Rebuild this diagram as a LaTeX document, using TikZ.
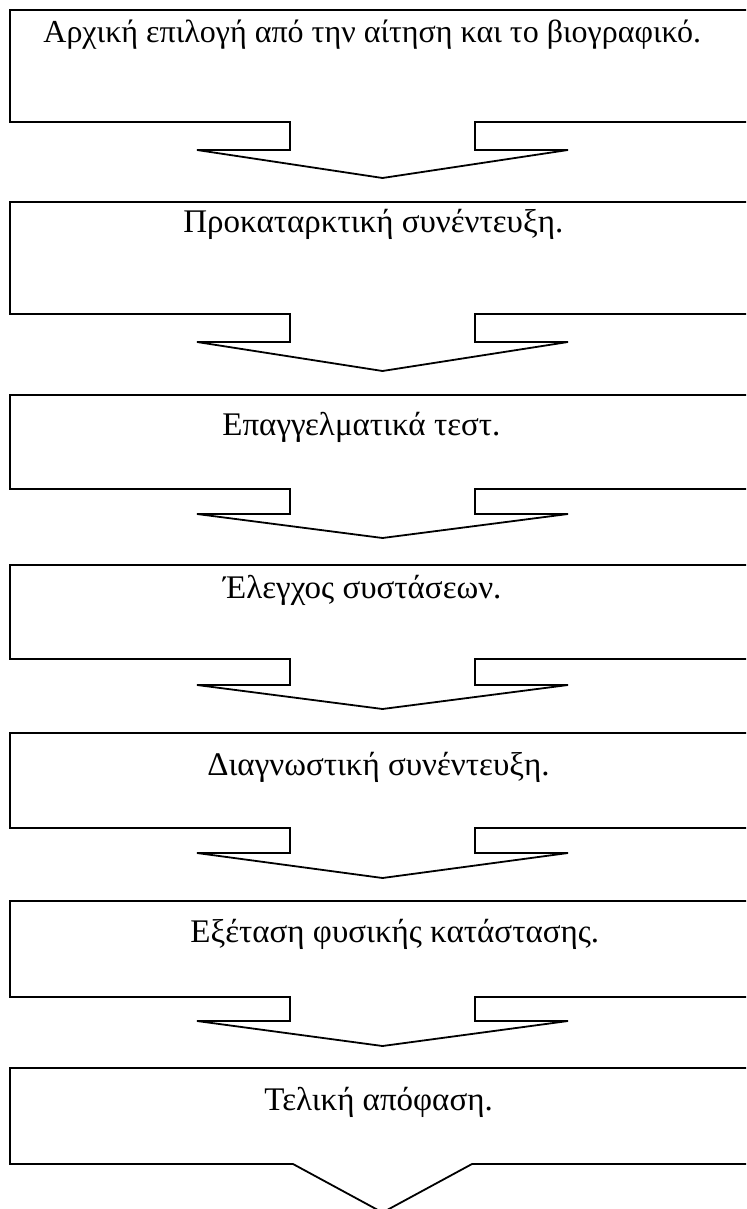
\documentclass[tikz,border=0pt]{standalone}
\usepackage{fontspec}
\setmainfont{Liberation Serif}
\begin{document}
\begin{tikzpicture}[x=0.5pt,y=-0.5pt,
	callout/.style={line width=0.9pt, line join=miter},
	steptext/.style={anchor=base west, inner sep=0pt, font=\fontsize{16.5}{20}\selectfont}]
	\useasboundingbox (0,0) rectangle (746,1209);
	\clip (0,0) rectangle (746,1209);

	% boxes with their arrows: top / bottom / end of stem / tip
	\foreach \t/\b/\s/\p in {10/122/150/178, 202/314/342/371, 395/489/514/538,
		565/659/685/709, 733/828/853/878, 901/997/1021/1046}
	{
		\draw[callout] (10,\t) -- (756,\t) -- (756,\b) -- (475,\b) -- (475,\s) -- (568,\s)
			-- (382.5,\p) -- (197,\s) -- (290,\s) -- (290,\b) -- (10,\b) -- cycle;
	}
	% last box
	\draw[callout] (10,1068) -- (756,1068) -- (756,1164) -- (472,1164)
		-- (382.5,1212.5) -- (293,1164) -- (10,1164) -- cycle;

	\node[steptext, font=\fontsize{16}{20}\selectfont] (step1) at (43,43) {Αρχική επιλογή από την αίτηση και το βιογραφικό.};
	\node[steptext] (step2) at (183,233) {Προκαταρκτική συνέντευξη.};
	\node[steptext] (step3) at (222,435) {Επαγγελματικά τεστ.};
	\node[steptext] (step4) at (223,598) {Έλεγχος συστάσεων.};
	\node[steptext] (step5) at (207,775) {Διαγνωστική συνέντευξη.};
	\node[steptext] (step6) at (190,942) {Εξέταση φυσικής κατάστασης.};
	\node[steptext] (step7) at (264,1110) {Τελική απόφαση.};

\end{tikzpicture}
\end{document}
